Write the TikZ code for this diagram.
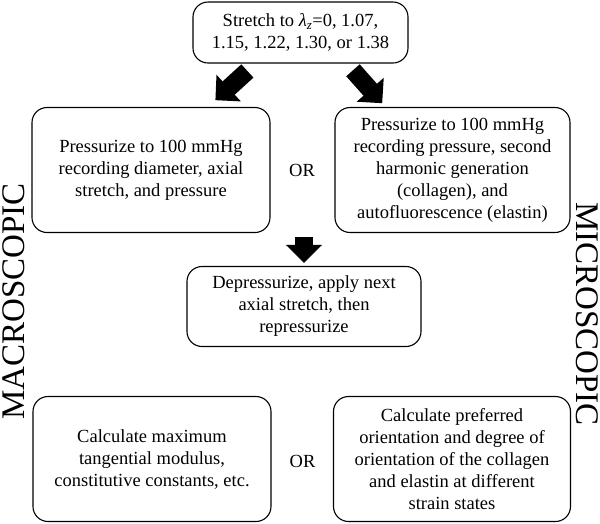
\documentclass[tikz,border=0pt]{standalone}
\usepackage{fontspec}
\setmainfont{Liberation Serif}
\usepackage{tikz}
\usetikzlibrary{arrows.meta}
\tikzstyle{process} = [rectangle, rounded corners=15pt, line width=1.1pt, draw=black, align=center, font=\fontsize{18.5}{22}\selectfont]
\tikzstyle{ortext} = [rectangle, align=center, font=\fontsize{18.5}{22}\selectfont]
\tikzstyle{sidelabel} = [rectangle, inner sep=0pt, font=\fontsize{33}{36}\selectfont]
\tikzstyle{fatarrow} = [line width=18pt, -{Triangle[length=18pt,width=35pt]}]

\begin{document}
\begin{tikzpicture}[node distance=2.5cm]
\useasboundingbox (-300.5pt,32.5pt) rectangle (299.5pt,-490.5pt);

%% NODES

\node (start) [process, minimum width=215pt, minimum height=61pt] {Stretch to {\itshape λ}\textsubscript{\itshape z}=0, 1.07,\\1.15, 1.22, 1.30, or 1.38};
\node (or1) [ortext, below of=start, node distance=137.5pt, xshift=1.5pt] {OR};
\node (pmacro) [process, left of=or1, node distance=151pt, minimum width=238pt, minimum height=125pt] {Pressurize to 100 mmHg\\recording diameter, axial\\stretch, and pressure};
\node (pmicro) [process, right of=or1, node distance=150.5pt, minimum width=235pt, minimum height=125pt] {Pressurize to 100 mmHg\\recording pressure, second\\harmonic generation\\(collagen), and\\autofluorescence (elastin)};
\node (depress) [process, below of=or1, node distance=136.5pt, xshift=2pt, minimum width=234pt, minimum height=80pt] {Depressurize, apply next\\axial stretch, then\\repressurize};
\node (or2) [ortext, below of=depress, node distance=155pt, xshift=-1.5pt] {OR};
\node (calcmacro) [process, left of=or2, node distance=150.5pt, yshift=2.5pt, minimum width=238pt, minimum height=125pt] {Calculate maximum\\tangential modulus,\\constitutive constants, etc.};
\node (calcmicro) [process, right of=or2, node distance=149.5pt, yshift=2.5pt, minimum width=237pt, minimum height=125pt] {Calculate preferred\\orientation and degree of\\orientation of the collagen\\and elastin at different\\strain states};
\node (macrolabel) [sidelabel, left of=depress, node distance=290.5pt, yshift=5pt, rotate=90] {MACROSCOPIC};
\node (microlabel) [sidelabel, right of=depress, node distance=283.5pt, yshift=-7.5pt, rotate=-90] {MICROSCOPIC};

%% ARROWS

\draw [fatarrow, shorten <=11pt, shorten >=10pt] ([xshift=-45pt]start.south) -- ([xshift=57pt]pmacro.north);
\draw [fatarrow, shorten <=9pt, shorten >=5pt] ([xshift=46.5pt]start.south) -- ([xshift=-67pt]pmicro.north);
\coordinate (split) at (pmacro.south -| depress.north);
\draw [fatarrow, shorten <=4pt, shorten >=3pt] (split) -- (depress.north);

\end{tikzpicture}
\end{document}
